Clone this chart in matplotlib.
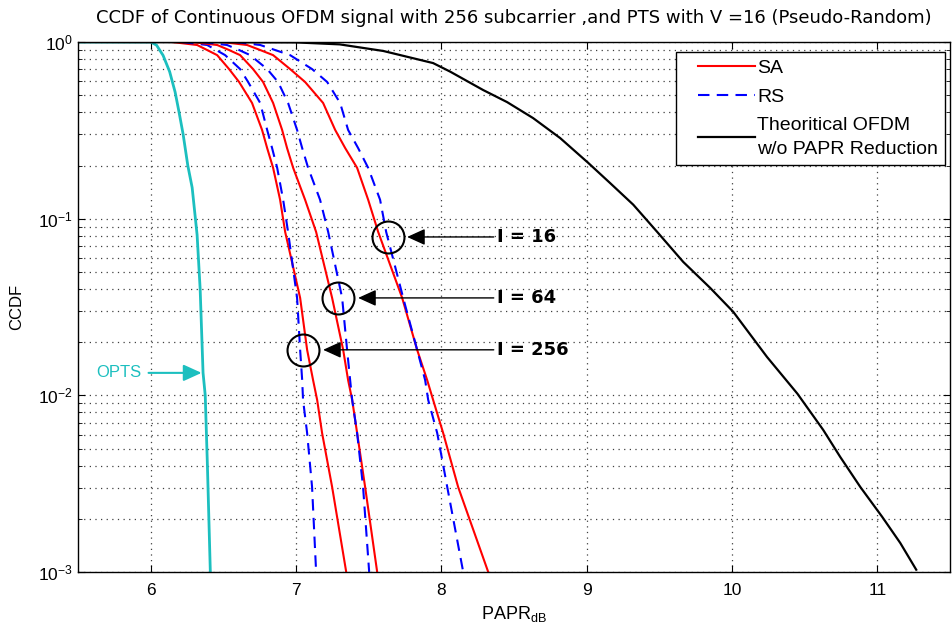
import numpy as np
import matplotlib
matplotlib.use('Agg')
from matplotlib import pyplot as plt
from matplotlib.ticker import LogLocator, NullFormatter
from matplotlib.legend_handler import HandlerLine2D

plt.rcParams['font.family'] = ['Liberation Sans', 'DejaVu Sans']
plt.rcParams['mathtext.fontset'] = 'custom'
plt.rcParams['mathtext.rm'] = 'Liberation Sans'

# Curves (PAPR in dB, CCDF)
optsX = [5.5, 6.0, 6.04, 6.085, 6.13, 6.168, 6.195, 6.223, 6.255, 6.285, 6.319, 6.34, 6.36, 6.375, 6.39, 6.41]
optsY = [1.0, 1.0, 0.96, 0.84, 0.68, 0.52, 0.40, 0.30, 0.20, 0.15, 0.081, 0.04, 0.0134, 0.01, 0.004, 0.001]

# SA / RS curves, all read at the same CCDF levels
ccdfLevels = [1.0, 0.962, 0.901, 0.843, 0.703, 0.594, 0.452, 0.318, 0.251, 0.194, 0.128, 0.0841,
              0.0356, 0.0181, 0.0122, 0.00942, 0.00612, 0.00303, 0.001]

sa256X = [6.147, 6.319, 6.388, 6.457, 6.539, 6.608, 6.697, 6.766, 6.801, 6.842, 6.890, 6.925,
          7.028, 7.076, 7.117, 7.145, 7.179, 7.248, 7.345]
rs256X = [6.216, 6.388, 6.450, 6.512, 6.615, 6.670, 6.753, 6.801, 6.835, 6.870, 6.911, 6.945,
          7.007, 7.028, 7.042, 7.048, 7.076, 7.110, 7.138]
sa64X = [6.285, 6.457, 6.539, 6.615, 6.704, 6.773, 6.842, 6.904, 6.938, 6.980, 7.062, 7.138,
         7.248, 7.324, 7.358, 7.386, 7.420, 7.475, 7.558]
rs64X = [6.353, 6.525, 6.608, 6.684, 6.801, 6.876, 6.945, 7.007, 7.042, 7.083, 7.165, 7.221,
         7.317, 7.351, 7.372, 7.386, 7.420, 7.461, 7.503]
sa16X = [6.491, 6.663, 6.753, 6.842, 6.959, 7.062, 7.186, 7.269, 7.338, 7.420, 7.496, 7.565,
         7.730, 7.833, 7.902, 7.943, 8.012, 8.115, 8.322]
rs16X = [6.580, 6.753, 6.856, 6.959, 7.110, 7.214, 7.303, 7.358, 7.427, 7.496, 7.578, 7.620,
         7.737, 7.833, 7.888, 7.909, 7.971, 8.040, 8.150]

theoX = [5.5, 7.0, 7.3, 7.6, 7.943, 8.060, 8.287, 8.452, 8.631, 8.817, 9.010, 9.161, 9.320, 9.485,
         9.664, 9.850, 10.008, 10.24, 10.45, 10.627, 10.744, 10.882, 11.033, 11.157, 11.267]
theoY = [1.0, 0.995, 0.97, 0.89, 0.76, 0.68, 0.535, 0.457, 0.371, 0.286, 0.207, 0.159, 0.120, 0.0841,
         0.0569, 0.0405, 0.0297, 0.0165, 0.0102, 0.00637, 0.00448, 0.00303, 0.00205, 0.00146, 0.00103]

# Annotations: label, circle centre (x, ccdf), arrow tip x
markLabels = ['I = 16', 'I = 64', 'I = 256']
markX = [7.634, 7.290, 7.048]
markY = [0.0788, 0.0356, 0.0181]
tipX = [7.764, 7.427, 7.186]


# matlab style legend: sample line leaves a gap on the left of the box
class LeftGapHandler(HandlerLine2D):
    def create_artists(self, legend, orig_handle, xdescent, ydescent, width, height, fontsize, trans):
        arts = super().create_artists(legend, orig_handle, xdescent, ydescent, width, height,
                                      fontsize, trans)
        for a in arts:
            xd = np.asarray(a.get_xdata(), dtype=float)
            if len(xd) > 1:
                a.set_xdata(np.linspace(xd[0] + 0.8 * fontsize, xd[-1], len(xd)))
        return arts


fig = plt.figure(figsize=(9.52, 6.33), dpi=100)
ax = fig.add_axes([0.082, 0.0964, 0.916, 0.8372])

optsColor = '#1CBFBF'
rsDash = (5.5, 3.5)
ax.plot(optsX, optsY, color=optsColor, lw=2.0)

saLine, = ax.plot(sa256X, ccdfLevels, color='red', lw=1.5, label='SA')
rsLine, = ax.plot(rs256X, ccdfLevels, color='blue', lw=1.5, ls='--', dashes=rsDash, label='RS')
ax.plot(sa64X, ccdfLevels, color='red', lw=1.5)
ax.plot(rs64X, ccdfLevels, color='blue', lw=1.5, ls='--', dashes=rsDash)
ax.plot(sa16X, ccdfLevels, color='red', lw=1.5)
ax.plot(rs16X, ccdfLevels, color='blue', lw=1.5, ls='--', dashes=rsDash)
theoLine, = ax.plot(theoX, theoY, color='black', lw=1.6, label='Theoritical OFDM\nw/o PAPR Reduction')

ax.set_yscale('log')
ax.set_xlim(5.5, 11.5)
ax.set_ylim(1e-3, 1)
ax.set_xticks([6, 7, 8, 9, 10, 11])
ax.yaxis.set_major_locator(LogLocator(base=10, numticks=10))
ax.yaxis.set_minor_locator(LogLocator(base=10, subs=np.arange(2, 10), numticks=10))
ax.yaxis.set_minor_formatter(NullFormatter())
ax.tick_params(which='both', direction='in', top=True, right=True, labelsize=12.5)
ax.tick_params(axis='x', pad=8)
ax.tick_params(which='major', length=5)
ax.tick_params(which='minor', length=3)
gridStyle = dict(ls=(0, (1, 3.5)), color='0.25', lw=0.9)
ax.grid(True, which='major', **gridStyle)
ax.grid(True, which='minor', axis='y', **gridStyle)
for s in ax.spines.values():
    s.set_linewidth(1.0)

# circles and arrows
for lab, cx, cy, tx in zip(markLabels, markX, markY, tipX):
    ax.plot([cx], [cy], marker='o', ms=23, mfc='none', mec='black', mew=1.5, ls='none')
    ax.annotate('', xy=(tx, cy), xytext=(8.36, cy),
                arrowprops=dict(arrowstyle='-|>,head_length=0.55,head_width=0.25', color='black',
                                lw=1.0, mutation_scale=20, shrinkA=0, shrinkB=0))
    ax.text(8.385, cy, lab, fontsize=13, fontweight='bold', va='center', ha='left',
            family=['Liberation Sans Narrow', 'DejaVu Sans'])

ax.annotate('', xy=(6.35, 0.0134), xytext=(5.985, 0.0134),
            arrowprops=dict(arrowstyle='-|>,head_length=0.55,head_width=0.25', color=optsColor,
                            lw=1.5, mutation_scale=20, shrinkA=0, shrinkB=0))
ax.text(5.625, 0.0134, 'OPTS', color=optsColor, fontsize=12, va='center', ha='left')

gapHandler = LeftGapHandler(marker_pad=0)
leg = ax.legend(handles=[saLine, rsLine, theoLine], loc='upper right', bbox_to_anchor=(0.9943, 0.981),
                fontsize=14, frameon=True, fancybox=False, edgecolor='black', framealpha=1,
                borderaxespad=0, handlelength=3.7, labelspacing=0.6, handletextpad=0.15,
                borderpad=0.35, handler_map={saLine: gapHandler, rsLine: gapHandler, theoLine: gapHandler})
leg.get_frame().set_linewidth(1.0)
leg.get_texts()[2].set_linespacing(1.5)

ax.set_title('CCDF of Continuous OFDM signal with 256 subcarrier ,and PTS with V =16 (Pseudo-Random)',
             fontsize=13, pad=14, family=['Liberation Sans Narrow', 'DejaVu Sans'])
ax.set_xlabel(r'PAPR$_{\mathrm{dB}}$', fontsize=13)
ax.set_ylabel('CCDF', fontsize=12, labelpad=10)

plt.savefig('out.png', dpi=100)
